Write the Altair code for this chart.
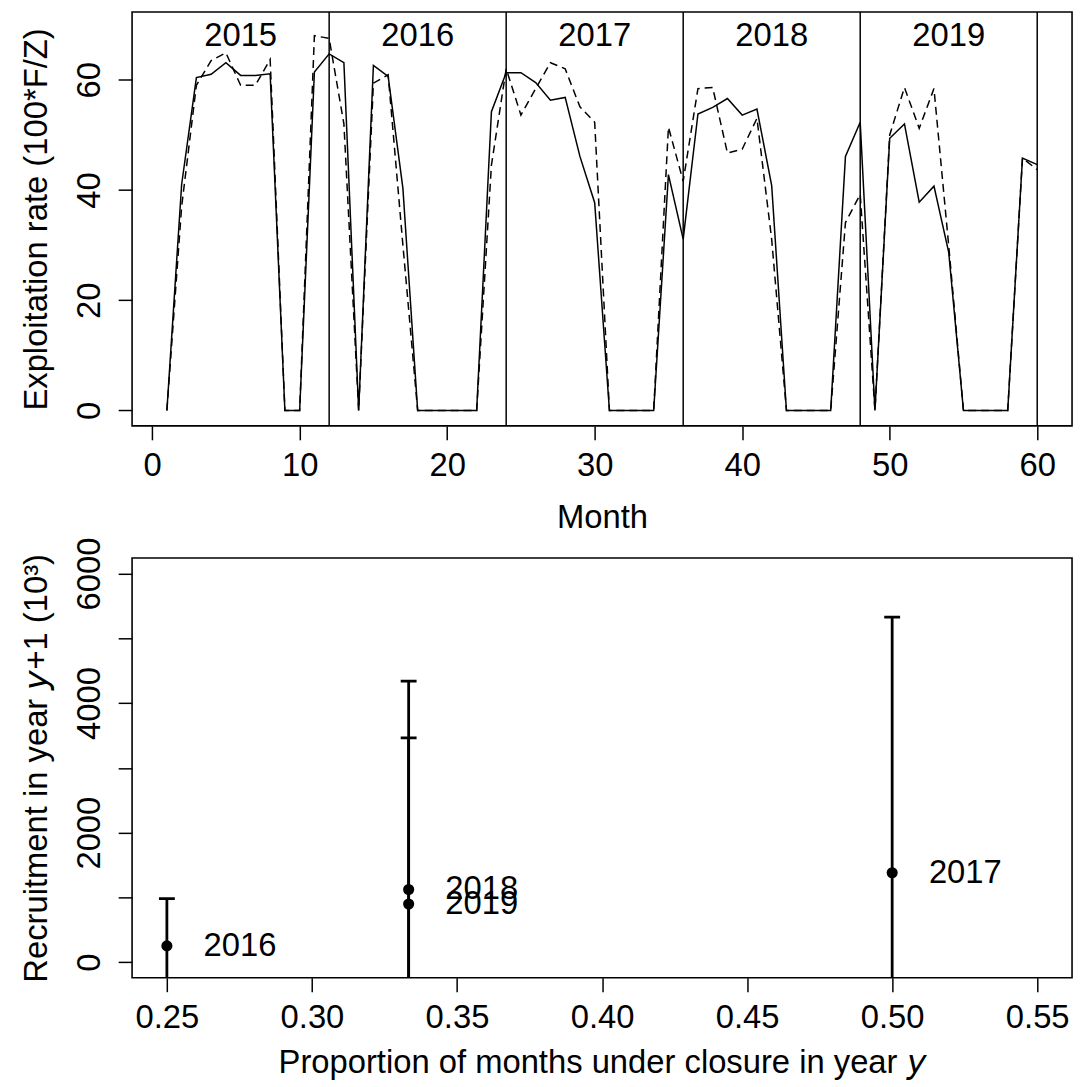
import altair as alt
import pandas as pd

# ---------------- data ----------------
months = list(range(1, 61))
rate_solid = [0, 41.0, 60.4, 61.0, 63.1, 60.8, 60.8, 61.1, 0, 0, 61.4, 64.7,
              63.1, 0, 62.6, 60.6, 40.3, 0, 0, 0, 0, 0, 54.2, 61.3,
              61.3, 59.5, 56.3, 56.8, 46.1, 37.7, 0, 0, 0, 0, 42.8, 31.1,
              53.8, 55.0, 56.6, 53.6, 54.7, 40.8, 0, 0, 0, 0, 46.1, 52.3,
              0, 49.4, 52.0, 37.8, 40.7, 28.7, 0, 0, 0, 0, 45.8, 44.6]
rate_dashed = [0, 37.0, 59.0, 63.5, 64.9, 59.0, 59.0, 63.7, 0, 0, 68.0, 67.5,
               52.0, 0, 59.4, 60.9, 30.0, 0, 0, 0, 0, 0, 44.5, 62.0,
               53.6, 58.4, 63.1, 62.0, 55.1, 52.3, 0, 0, 0, 0, 51.4, 41.6,
               58.4, 58.6, 46.7, 47.4, 53.0, 31.0, 0, 0, 0, 0, 34.1, 39.2,
               0, 50.0, 58.6, 51.2, 58.4, 29.9, 0, 0, 0, 0, 45.8, 43.7]
year_names = ["2015", "2016", "2017", "2018", "2019"]
year_mid = [6, 18, 30, 42, 54]
year_label_y = [68, 68, 68, 68, 68]
year_end = [12, 24, 36, 48, 60]

closure_prop = [0.25, 1 / 3, 1 / 3, 0.5]
recruit_est = [252, 1123, 899, 1381]
recruit_hi = [981, 4340, 3463, 5326]
recruit_lo = [-477, -2094, -1665, -2564]
recruit_year = ["2016", "2018", "2019", "2017"]

FONT = "Liberation Sans"
FS = 33

df_solid = pd.DataFrame({"month": months, "rate": rate_solid})
df_dashed = pd.DataFrame({"month": months, "rate": rate_dashed})
df_years = pd.DataFrame({"x": year_mid, "y": year_label_y, "label": year_names})
df_bounds = pd.DataFrame({"x": year_end})
df_rec = pd.DataFrame({"p": closure_prop, "r": recruit_est, "hi": recruit_hi,
                       "lo": recruit_lo, "label": recruit_year})

W = 947
H1 = 417
H2 = 423

xs_top = alt.Scale(domain=[-1.36, 62.36], nice=False, zero=False)
ys_top = alt.Scale(domain=[-2.8, 72.3], nice=False, zero=False)

common_axis = dict(domain=False, grid=False, tickColor="black", tickWidth=1.5,
                   tickSize=14, labelColor="black", titleColor="black",
                   labelFont=FONT, titleFont=FONT, labelFontSize=FS,
                   titleFontSize=FS, titleFontWeight="normal", labelOverlap=False)

x_top_axis = alt.Axis(values=[0, 10, 20, 30, 40, 50, 60], title="Month",
                      labelPadding=36, labelBaseline="alphabetic",
                      titleBaseline="alphabetic", titleY=102, titleX=W / 2,
                      titleAlign="center", **common_axis)
y_top_axis = alt.Axis(values=[0, 20, 40, 60], title="Exploitation rate (100*F/Z)",
                      labelAngle=270, labelAlign="center", labelBaseline="alphabetic",
                      labelPadding=19, titleAngle=270, titleAlign="center",
                      titleBaseline="alphabetic", titleX=-86, titleY=H1 / 2,
                      **common_axis)

base_top = alt.Chart(df_solid)
solid = base_top.mark_line(color="black", strokeWidth=1.5).encode(
    x=alt.X("month:Q", scale=xs_top, axis=x_top_axis),
    y=alt.Y("rate:Q", scale=ys_top, axis=y_top_axis),
)
dashed = alt.Chart(df_dashed).mark_line(color="black", strokeWidth=1.5,
                                        strokeDash=[8, 5]).encode(
    x=alt.X("month:Q", scale=xs_top),
    y=alt.Y("rate:Q", scale=ys_top),
)
vlines = alt.Chart(df_bounds).mark_rule(color="black", strokeWidth=1.5).encode(
    x=alt.X("x:Q", scale=xs_top),
)
ylabels = alt.Chart(df_years).mark_text(font=FONT, fontSize=FS, color="black",
                                        baseline="middle", align="center").encode(
    x=alt.X("x:Q", scale=xs_top),
    y=alt.Y("y:Q", scale=ys_top),
    text="label:N",
)
top = alt.layer(vlines, solid, dashed, ylabels).properties(width=W, height=H1)

# ---------------- bottom panel ----------------
xs_bot = alt.Scale(domain=[0.238, 0.562], nice=False, zero=False)
ys_bot = alt.Scale(domain=[-240, 6240], nice=False, zero=False)

x_bot_axis = alt.Axis(values=[0.25, 0.30, 0.35, 0.40, 0.45, 0.50, 0.55], format=".2f",
                      title="Proportion of months under closure in year \U0001D63A",
                      labelPadding=36, labelBaseline="alphabetic",
                      titleBaseline="alphabetic", titleY=95, titleX=W / 2,
                      titleAlign="center", **common_axis)
y_bot_axis = alt.Axis(values=[0, 1000, 2000, 3000, 4000, 5000, 6000], format="d",
                      labelExpr="datum.value % 2000 == 0 ? datum.label : ''",
                      title="Recruitment in year \U0001D63A+1 (10\u00b3)",
                      labelAngle=270, labelAlign="center", labelBaseline="alphabetic",
                      labelPadding=19, titleAngle=270, titleAlign="center",
                      titleBaseline="alphabetic", titleX=-86, titleY=H2 / 2,
                      **common_axis)

base_bot = alt.Chart(df_rec)
bars = base_bot.mark_rule(color="black", strokeWidth=2.8, clip=True).encode(
    x=alt.X("p:Q", scale=xs_bot, axis=x_bot_axis),
    y=alt.Y("lo:Q", scale=ys_bot, axis=y_bot_axis),
    y2="hi:Q",
)
caps_hi = base_bot.mark_rule(color="black", strokeWidth=2.8, clip=True,
                             xOffset=-8, x2Offset=8).encode(
    x=alt.X("p:Q", scale=xs_bot), x2="p:Q",
    y=alt.Y("hi:Q", scale=ys_bot),
)
caps_lo = base_bot.mark_rule(color="black", strokeWidth=2.8, clip=True,
                             xOffset=-8, x2Offset=8).encode(
    x=alt.X("p:Q", scale=xs_bot), x2="p:Q",
    y=alt.Y("lo:Q", scale=ys_bot),
)
pts = base_bot.mark_point(filled=True, color="black", size=125, opacity=1).encode(
    x=alt.X("p:Q", scale=xs_bot),
    y=alt.Y("r:Q", scale=ys_bot),
)
txt = base_bot.mark_text(font=FONT, fontSize=FS, color="black", align="left",
                         baseline="middle", dx=37).encode(
    x=alt.X("p:Q", scale=xs_bot),
    y=alt.Y("r:Q", scale=ys_bot),
    text="label:N",
)
bottom = alt.layer(bars, caps_hi, caps_lo, pts, txt).properties(width=W, height=H2)

chart = alt.vconcat(top, bottom, spacing=133, bounds="flush").properties(
    autosize=alt.AutoSizeParams(type="none"),
    padding={"left": 125, "top": 0, "right": 5, "bottom": 1079},
    background="white",
).configure_view(stroke="black", strokeWidth=1.6, fill="white")

chart.save("out.html", embed_options={"renderer": "svg", "actions": False})
